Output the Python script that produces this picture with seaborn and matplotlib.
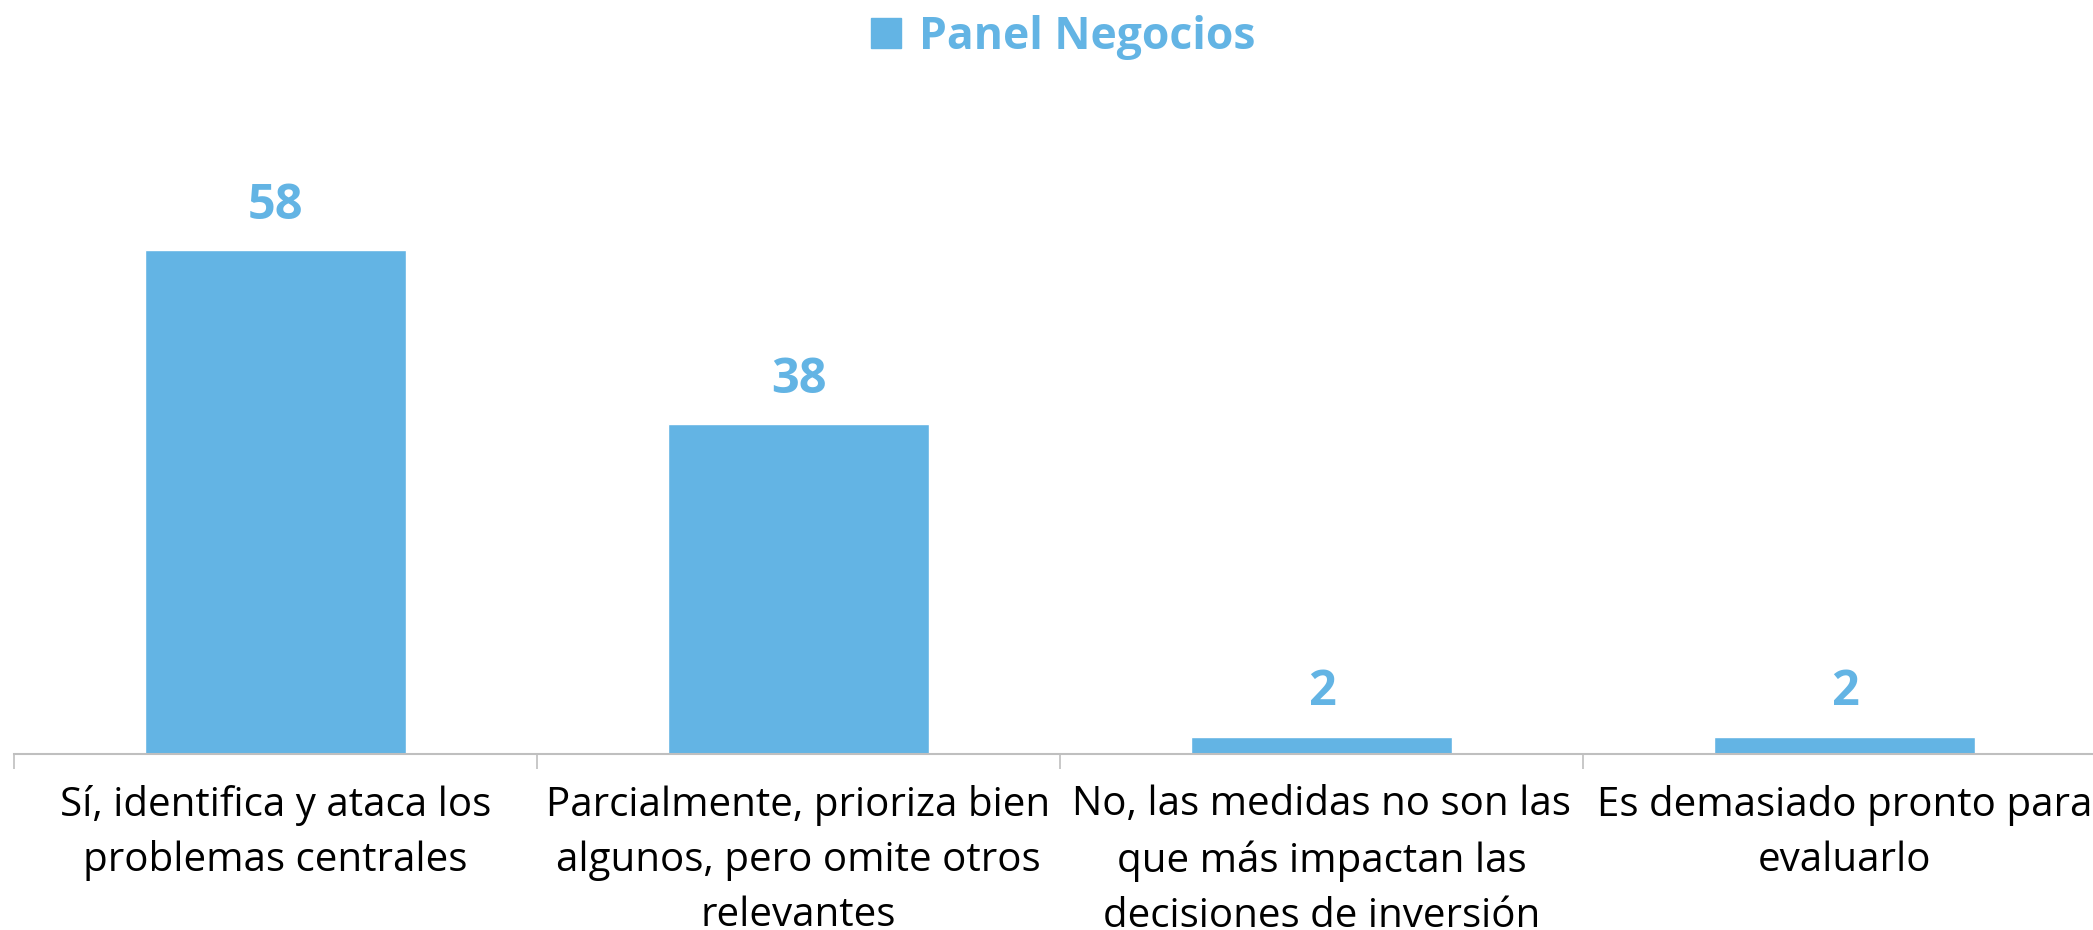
import numpy as np
import matplotlib
matplotlib.use("Agg")
import matplotlib.pyplot as plt
import seaborn as sns
from matplotlib.patches import Patch

# Data
categories = [
    "Sí, identifica y ataca los\nproblemas centrales",
    "Parcialmente, prioriza bien\nalgunos, pero omite otros\nrelevantes",
    "No, las medidas no son las\nque más impactan las\ndecisiones de inversión",
    "Es demasiado pronto para\nevaluarlo",
]
values = [58, 38, 2, 2]
series_name = "Panel Negocios"

BLUE = "#63b4e4"
GREY = "#bfbfbf"

sns.set_style("white")
plt.rcParams['font.family'] = ['Open Sans', 'DejaVu Sans']

W, H = 2093, 930
fig = plt.figure(figsize=(W / 100, H / 100), dpi=100)
# axes placed in pixel terms (the right end of the axis runs off the canvas)
ax = fig.add_axes([14 / W, (H - 754) / H, 2092 / W, (754 - 100) / H])

sns.barplot(x=categories, y=values, color=BLUE, width=0.5, saturation=1, ax=ax)

ax.set_xlim(-0.5, 3.5)
ax.set_ylim(0, 75.3)

# value labels
ax.bar_label(ax.containers[0], labels=[str(v) for v in values], padding=14,
             color=BLUE, fontsize=35, fontweight='bold')

# axis styling
for side in ["top", "right", "left"]:
    ax.spines[side].set_visible(False)
ax.spines["bottom"].set_color(GREY)
ax.spines["bottom"].set_linewidth(1.5)
ax.set_yticks([])
ax.set_ylabel("")
ax.set_xticks(range(len(categories)))
ax.set_xticklabels(categories, fontsize=29, linespacing=1.48, color="black")
ax.set_xticks(np.arange(-0.5, len(categories)), minor=True)
ax.tick_params(axis="x", which="both", bottom=True)
ax.tick_params(axis="x", which="major", length=0, pad=22)
ax.tick_params(axis="x", which="minor", length=11, width=1.2, color=GREY)

# series legend used as the heading
handle = Patch(facecolor=BLUE, edgecolor=BLUE)
leg = fig.legend([handle], [series_name], loc="center",
                 bbox_to_anchor=(0.5 + 17 / W, 1 - 37 / H),
                 frameon=False, fontsize=32, handlelength=0.68, handleheight=0.68,
                 handletextpad=0.4, borderpad=0)
for t in leg.get_texts():
    t.set_color(BLUE)
    t.set_fontweight("bold")

fig.savefig("out.png", dpi=100)
